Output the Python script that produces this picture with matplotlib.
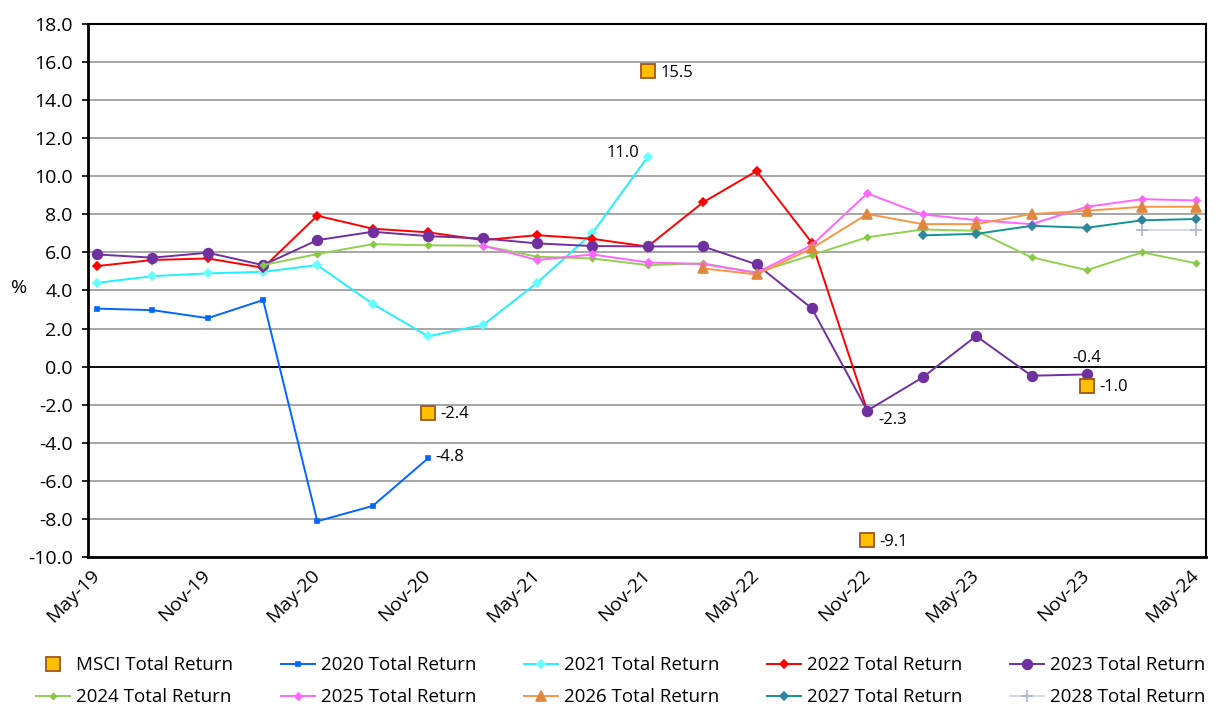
"""
Quarterly total return forecasts by vintage vs MSCI total return.
"""
import numpy as np
import pandas as pd
import matplotlib.pyplot as plt

plt.rcParams['font.family'] = ['Open Sans', 'DejaVu Sans']

nan = np.nan

# quarterly observation dates, May-19 .. May-24
quarters = ["May-19", "Aug-19", "Nov-19", "Feb-20", "May-20", "Aug-20", "Nov-20",
            "Feb-21", "May-21", "Aug-21", "Nov-21", "Feb-22", "May-22", "Aug-22",
            "Nov-22", "Feb-23", "May-23", "Aug-23", "Nov-23", "Feb-24", "May-24"]
tick_labels = ["May-19", "Nov-19", "May-20", "Nov-20", "May-21", "Nov-21",
               "May-22", "Nov-22", "May-23", "Nov-23", "May-24"]

msci = [nan, nan, nan, nan, nan, nan, -2.4, nan, nan, nan, 15.5, nan, nan, nan,
        -9.1, nan, nan, nan, -1.0, nan, nan]
ret_2020 = [3.05, 2.97, 2.55, 3.5, -8.1, -7.3, -4.8] + [nan] * 14
ret_2021 = [4.4, 4.75, 4.9, 4.98, 5.33, 3.3, 1.6, 2.2, 4.4, 7.0, 11.0] + [nan] * 10
ret_2022 = [5.28, 5.6, 5.68, 5.19, 7.92, 7.24, 7.05, 6.64, 6.9, 6.71, 6.3,
            8.62, 10.26, 6.5, -2.3] + [nan] * 6
ret_2023 = [5.89, 5.72, 5.98, 5.33, 6.64, 7.08, 6.85, 6.73, 6.47, 6.33, 6.31,
            6.31, 5.37, 3.06, -2.3, -0.56, 1.61, -0.47, -0.4, nan, nan]
ret_2024 = [nan, nan, nan, 5.33, 5.91, 6.43, 6.37, 6.35, 5.77, 5.68, 5.33,
            5.42, 4.93, 5.86, 6.79, 7.2, 7.13, 5.74, 5.07, 6.0, 5.42]
ret_2025 = [nan] * 7 + [6.35, 5.6, 5.89, 5.47, 5.39, 4.93, 6.38, 9.09, 7.99,
                        7.69, 7.48, 8.39, 8.79, 8.72]
ret_2026 = [nan] * 11 + [5.16, 4.84, 6.21, 8.01, 7.48, 7.48, 8.01, 8.18, 8.39, 8.39]
ret_2027 = [nan] * 15 + [6.89, 6.97, 7.39, 7.29, 7.68, 7.75]
ret_2028 = [nan] * 19 + [7.17, 7.17]

dates = pd.date_range("2019-05-01", periods=len(quarters), freq="3MS") + pd.Timedelta(days=15)
tick_dates = dates[::2]

fig = plt.figure(figsize=(12.23, 7.08), dpi=100)
ax = fig.add_axes([0.072, 0.2126, 0.9141, 0.7542])

series = [
    ("2020 Total Return", ret_2020, "#0066FF", "#0066FF", "s", 3.5),
    ("2021 Total Return", ret_2021, "#22F0FF", "#66FFFF", "D", 4.5),
    ("2022 Total Return", ret_2022, "#FF0000", "#FF0000", "D", 4.5),
    ("2023 Total Return", ret_2023, "#7030A0", "#7030A0", "o", 7),
    ("2024 Total Return", ret_2024, "#92D050", "#86C943", "D", 3),
    ("2025 Total Return", ret_2025, "#FF66FF", "#FF66FF", "D", 3.5),
    ("2026 Total Return", ret_2026, "#F79646", "#E0873F", "^", 7),
    ("2027 Total Return", ret_2027, "#129494", "#31859C", "D", 4.5),
    ("2028 Total Return", ret_2028, "#D4D8E2", "#A9B4D3", "+", 8),
]

handles = {}
for name, vals, lc, mc, mk, ms in series:
    h, = ax.plot(dates, vals, color=lc, lw=1.4, marker=mk, markersize=ms,
                 markerfacecolor=mc, markeredgecolor=mc, markeredgewidth=1.2,
                 label=name, zorder=3)
    handles[name] = h

h, = ax.plot(dates, msci, ls="none", marker="s", markersize=9.5,
             markerfacecolor="#FFC000", markeredgecolor="#A0561C",
             markeredgewidth=1.3, label="MSCI Total Return", zorder=4)
handles["MSCI Total Return"] = h

# data labels
for i, v in enumerate(msci):
    if not np.isnan(v):
        ax.annotate(f"{v:.1f}", (dates[i], v), xytext=(9, -1), textcoords="offset points",
                    ha="left", va="center", fontsize=12)
ax.annotate(f"{ret_2020[6]:.1f}", (dates[6], ret_2020[6]), xytext=(5, 1),
            textcoords="offset points", ha="left", va="center", fontsize=12)
ax.annotate(f"{ret_2021[10]:.1f}", (dates[10], ret_2021[10]), xytext=(-6, 3),
            textcoords="offset points", ha="right", va="center", fontsize=12)
ax.annotate(f"{ret_2023[14]:.1f}", (dates[14], ret_2023[14]), xytext=(8, -1),
            textcoords="offset points", ha="left", va="top", fontsize=12)
ax.annotate(f"{ret_2023[18]:.1f}", (dates[18], ret_2023[18]), xytext=(0, 6),
            textcoords="offset points", ha="center", va="bottom", fontsize=12)

ax.set_ylim(-10, 18)
yticks = np.arange(-10, 18.1, 2)
ax.set_yticks(yticks)
ax.set_yticklabels([f"{t:.1f}" for t in yticks], fontsize=14)
ax.set_xlim(pd.Timestamp("2019-05-01"), pd.Timestamp("2024-06-01"))
ax.set_xticks(tick_dates)
ax.set_xticklabels(tick_labels, rotation=45, ha="right", va="center",
                   rotation_mode="anchor", fontsize=14)
ax.tick_params(axis="y", direction="out", length=4, width=1.2, pad=7)
ax.tick_params(axis="x", length=0, pad=11)
ax.set_ylabel("%", rotation=0, fontsize=14, va="center", ha="center")
ax.yaxis.set_label_coords(-0.062, 0.505)

ax.yaxis.grid(True, color="#A6A6A6", lw=1.4, zorder=0)
ax.set_axisbelow(True)
ax.axhline(0, color="black", lw=1.3, zorder=1)
for side in ["left", "bottom"]:
    ax.spines[side].set_linewidth(2)
for side in ["top", "right"]:
    ax.spines[side].set_linewidth(1.5)

order = ["MSCI Total Return", "2024 Total Return", "2020 Total Return", "2025 Total Return",
         "2021 Total Return", "2026 Total Return", "2022 Total Return", "2027 Total Return",
         "2023 Total Return", "2028 Total Return"]
fig.legend([handles[n] for n in order], order, loc="lower left",
           bbox_to_anchor=(0.0283, 0.0, 0.959, 0.1), mode="expand", ncol=5,
           frameon=False, fontsize=13.5, handlelength=1.8, handletextpad=0.32,
           labelspacing=0.75, borderaxespad=0.0, borderpad=0.1)

fig.savefig("out.png", dpi=100)
